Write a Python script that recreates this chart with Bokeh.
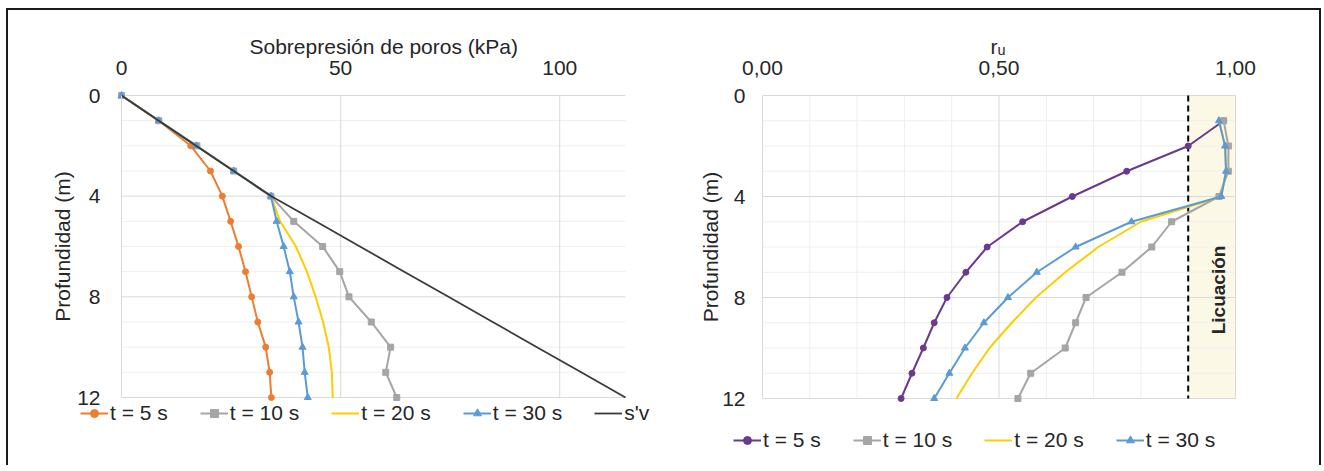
import math
from bokeh.plotting import figure
from bokeh.layouts import row
from bokeh.models import Range1d, FixedTicker, Legend, LegendItem, LinearAxis, Title
from bokeh.core.properties import value
from bokeh.embed import file_html
from bokeh.resources import INLINE

# ---------------- data ----------------
depth = [0, 1, 2, 3, 4, 5, 6, 7, 8, 9, 10, 11, 12]
u_t5 = [0, 8.5, 15.8, 20.3, 23.0, 24.9, 26.7, 28.3, 29.7, 31.1, 32.9, 33.8, 34.2]
u_t10 = [0, 8.5, 17.2, 25.6, 34.1, 39.3, 45.9, 49.8, 51.9, 57.0, 61.4, 60.3, 62.8]
u_t20 = [0, 8.5, 17.1, 25.6, 34.1, 36.2, 39.8, 42.3, 44.3, 46.0, 47.3, 48.0, 48.2]
u_t30 = [0, 8.5, 17.1, 25.6, 34.1, 35.4, 37.0, 38.4, 39.3, 40.4, 41.3, 41.8, 42.5]
sv = [0, 8.5, 17.0, 25.6, 34.2, 44.3, 54.4, 64.5, 74.6, 84.7, 94.8, 104.9, 115.0]

depth_ru = [1, 2, 3, 4, 5, 6, 7, 8, 9, 10, 11, 12]
ru_t5 = [0.975, 0.90, 0.77, 0.655, 0.55, 0.475, 0.43, 0.39, 0.363, 0.34, 0.316, 0.293]
ru_t10 = [0.975, 0.985, 0.985, 0.965, 0.865, 0.823, 0.76, 0.684, 0.662, 0.64, 0.567, 0.54]
ru_t20 = [0.965, 0.978, 0.98, 0.97, 0.80, 0.71, 0.64, 0.578, 0.527, 0.48, 0.443, 0.41]
ru_t30 = [0.965, 0.978, 0.98, 0.97, 0.78, 0.662, 0.58, 0.519, 0.468, 0.428, 0.395, 0.363]

series_labels = ["t = 5 s", "t = 10 s", "t = 20 s", "t = 30 s"]
sv_label = "s'v"

u_axis = [0, 115]            # kPa axis extent
u_ticks = [0, 50, 100]
u_tick_labels = ["0", "50", "100"]
ru_axis = [0, 1.0]
ru_ticks = [0, 0.5, 1.0]
ru_tick_labels = ["0,00", "0,50", "1,00"]
ru_minor = [0.1, 0.2, 0.3, 0.4, 0.6, 0.7, 0.8, 0.9]
depth_axis = [0, 12]
depth_ticks = [0, 4, 8, 12]
depth_tick_labels = ["0", "4", "8", "12"]
depth_minor = [1, 2, 3, 5, 6, 7, 9, 10, 11]

liq_threshold = 0.9
liq_label = "Licuación"

# ---------------- style ----------------
FONT = "Liberation Sans"
FS = "21px"
TXT = "#262626"
GRID = "#D9D9D9"
MINOR = "#EEEEEE"

C_OR = "#ED7D31"
C_GR = "#A5A5A5"
C_YE = "#FFCC00"
C_BL = "#5B9BD5"
C_SV = "#3A3A3A"
C_PU = "#6A3A8E"

H = 455            # figure height (page y 10..465)
TOP = 70           # border above the plotting frame (frame top at page y 80)
DEPTH0_PX = 15     # depth 0 lies 15 px below the frame top (page y 95)


def make_fig(width, left_border, x0_px, px_per_unit, depth_px, xticks, xlabels,
             title, title_offset):
    frame_w = width - left_border
    frame_h = H - TOP
    ppm = depth_px / (depth_axis[1] - depth_axis[0])
    xs = -x0_px / px_per_unit
    xe = (frame_w - x0_px) / px_per_unit
    y_top = -DEPTH0_PX / ppm
    y_bot = (frame_h - DEPTH0_PX) / ppm
    p = figure(width=width, height=H, x_range=Range1d(xs, xe), y_range=Range1d(y_bot, y_top),
               x_axis_location="above", y_axis_location=None,
               output_backend="svg", toolbar_location=None,
               min_border_left=left_border, min_border_right=0,
               min_border_top=TOP, min_border_bottom=0)
    p.outline_line_color = None
    p.grid.visible = False
    p.background_fill_color = "white"
    p.border_fill_color = "white"
    xa = p.xaxis[0]
    xa.ticker = FixedTicker(ticks=xticks)
    xa.major_label_overrides = {t: l for t, l in zip(xticks, xlabels)}
    ya = LinearAxis(ticker=FixedTicker(ticks=depth_ticks), fixed_location=0)
    ya.major_label_overrides = {t: l for t, l in zip(depth_ticks, depth_tick_labels)}
    ya.bounds = (depth_axis[0], depth_axis[1])
    p.add_layout(ya, "left")
    for ax in (xa, ya):
        ax.axis_line_color = GRID
        ax.major_tick_line_color = None
        ax.minor_tick_line_color = None
        ax.major_label_text_font = FONT
        ax.major_label_text_font_size = FS
        ax.major_label_text_color = TXT
    xa.axis_line_color = None
    xa.major_label_standoff = 0
    p.add_layout(Title(text=title, align="left", offset=title_offset, standoff=0,
                       text_font=FONT, text_font_size=FS, text_font_style="normal",
                       text_color=TXT), "above")
    return p, ya


def grid_lines(p, xmax, vmajor, vminor):
    if vminor:
        p.segment(x0=vminor, x1=vminor, y0=[depth_axis[0]] * len(vminor),
                  y1=[depth_axis[1]] * len(vminor), line_color=MINOR, line_width=1)
    p.segment(x0=[0] * len(depth_minor), x1=[xmax] * len(depth_minor),
              y0=depth_minor, y1=depth_minor, line_color=MINOR, line_width=1)
    p.segment(x0=vmajor, x1=vmajor, y0=[depth_axis[0]] * len(vmajor),
              y1=[depth_axis[1]] * len(vmajor), line_color=GRID, line_width=1)
    p.segment(x0=[0] * len(depth_ticks), x1=[xmax] * len(depth_ticks),
              y0=depth_ticks, y1=depth_ticks, line_color=GRID, line_width=1)


def ylabel(p, xpos):
    p.text(x=[xpos], y=[6], text=["Profundidad (m)"], angle=math.pi / 2,
           text_font=value(FONT), text_font_size=FS, text_color=TXT,
           text_align="center", text_baseline="middle")


def add_legend(p, items, loc):
    lg = Legend(items=items, orientation="horizontal", location=loc,
                label_text_font=FONT, label_text_font_size=FS,
                label_text_color=TXT, glyph_width=28, glyph_height=20,
                label_standoff=2, spacing=32, padding=0, margin=0,
                border_line_color=None, background_fill_alpha=0)
    p.add_layout(lg)


# ---------------- left chart ----------------
# page x: figure 8..660, frame 44..660, kPa 0 at x=121, 115 kPa at x=625
L1 = 36
PX1 = 504 / (u_axis[1] - u_axis[0])
p1, ya1 = make_fig(652, L1, 121 - 44, PX1, 302, u_ticks, u_tick_labels,
                   "Sobrepresión de poros (kPa)", 205)
ya1.major_label_standoff = 15
grid_lines(p1, u_axis[1], u_ticks[1:], [])
ylabel(p1, (62 - 121) / PX1)

items1 = []
l = p1.line(u_t5, depth, line_color=C_OR, line_width=2)
s = p1.scatter(u_t5, depth, marker="circle", size=6, color=C_OR)
items1.append(LegendItem(label=series_labels[0], renderers=[l, s]))
l = p1.line(u_t10, depth, line_color=C_GR, line_width=2)
s = p1.scatter(u_t10, depth, marker="square", size=6, color=C_GR)
items1.append(LegendItem(label=series_labels[1], renderers=[l, s]))
l = p1.line(u_t20, depth, line_color=C_YE, line_width=2)
items1.append(LegendItem(label=series_labels[2], renderers=[l]))
l = p1.line(u_t30, depth, line_color=C_BL, line_width=2)
s = p1.scatter(u_t30, depth, marker="triangle", size=7, color=C_BL)
items1.append(LegendItem(label=series_labels[3], renderers=[l, s]))
l = p1.line(sv, depth, line_color=C_SV, line_width=1.8)
items1.append(LegendItem(label=sv_label, renderers=[l]))
add_legend(p1, items1, (80 - 44, 40))

# ---------------- right chart ----------------
# page x: figure 660..1319, frame 694..1319, r_u 0 at x=762, 1.0 at x=1235
L2 = 34
PX2 = 473 / (ru_axis[1] - ru_axis[0])
p2, ya2 = make_fig(659, L2, 762 - 694, PX2, 303, ru_ticks, ru_tick_labels, "rᵤ", 296)
ya2.major_label_standoff = 11

p2.quad(left=[liq_threshold], right=[ru_axis[1]], top=[depth_axis[0]], bottom=[depth_axis[1]],
        fill_color="#FCF8E6", line_color=None)
grid_lines(p2, ru_axis[1], [0.5, 1.0], ru_minor)
p2.segment(x0=[liq_threshold], x1=[liq_threshold], y0=[depth_axis[0]], y1=[depth_axis[1]],
           line_color="black", line_width=2, line_dash="6 4")
p2.text(x=[0.964], y=[7.7], text=[liq_label], angle=math.pi / 2,
        text_font=value(FONT), text_font_style="bold", text_font_size="19px",
        text_color=TXT, text_align="center", text_baseline="middle")
ylabel(p2, (710 - 762) / PX2)

items2 = []
l = p2.line(ru_t5, depth_ru, line_color=C_PU, line_width=2)
s = p2.scatter(ru_t5, depth_ru, marker="circle", size=6, color=C_PU)
items2.append(LegendItem(label=series_labels[0], renderers=[l, s]))
l = p2.line(ru_t10, depth_ru, line_color=C_GR, line_width=2)
s = p2.scatter(ru_t10, depth_ru, marker="square", size=6, color=C_GR)
items2.append(LegendItem(label=series_labels[1], renderers=[l, s]))
l = p2.line(ru_t20, depth_ru, line_color=C_YE, line_width=2)
items2.append(LegendItem(label=series_labels[2], renderers=[l]))
l = p2.line(ru_t30, depth_ru, line_color=C_BL, line_width=2)
s = p2.scatter(ru_t30, depth_ru, marker="triangle", size=7, color=C_BL)
items2.append(LegendItem(label=series_labels[3], renderers=[l, s]))
add_legend(p2, items2, (733 - 694, 13))

layout = row(p1, p2, styles={"margin-left": "6px", "margin-top": "8px",
                             "border-top": "2px solid #1a1a1a",
                             "border-left": "2px solid #1a1a1a",
                             "border-right": "2px solid #1a1a1a"})

open("out.html", "w").write(file_html(layout, INLINE))
